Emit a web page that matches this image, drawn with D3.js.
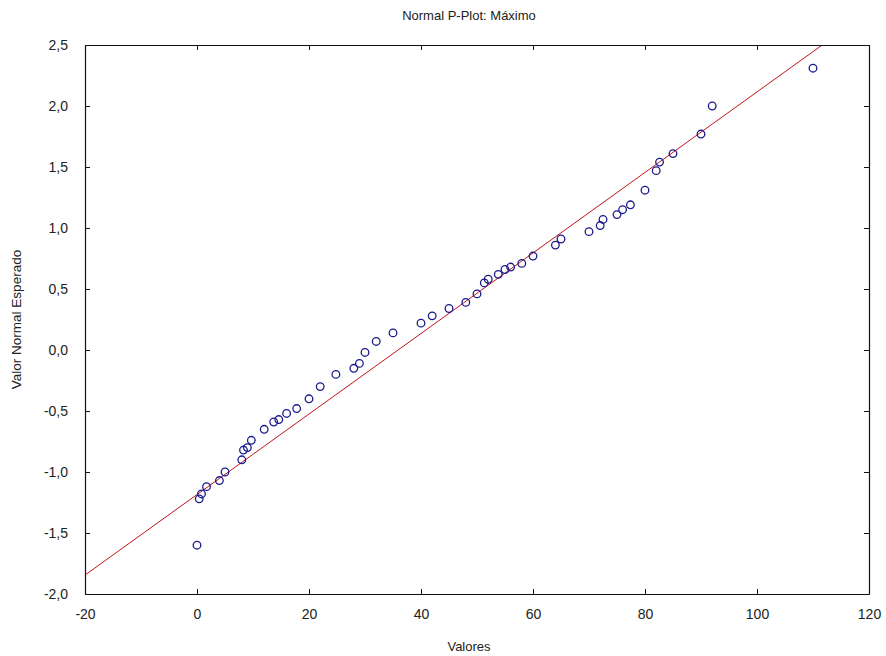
<!DOCTYPE html>
<html>
<head>
<meta charset="utf-8">
<script src="https://cdnjs.cloudflare.com/ajax/libs/d3/7.8.5/d3.min.js"></script>
<style>
  body { margin: 0; background: #fff; }
  text { font-family: "Liberation Sans", Arial, sans-serif; fill: #222; }
</style>
</head>
<body>
<div id="container"></div>
<script>
// valores observados (eje x) y valor normal esperado (eje y)
var valores = [0, 0.4, 0.8, 1.7, 4, 5, 8, 8.3, 9, 9.7,
  12, 13.7, 14.6, 16, 17.8, 20, 22, 24.8, 28, 29,
  30, 32, 35, 40, 42, 45, 48, 50, 51.3, 52,
  53.8, 55, 56, 58, 60, 64, 65, 70, 72, 72.5,
  75, 76, 77.4, 80, 82, 82.6, 85, 90, 92, 110];
var esperado = [-1.60, -1.22, -1.18, -1.12, -1.07, -1.00, -0.90, -0.82, -0.80, -0.74,
  -0.65, -0.59, -0.57, -0.52, -0.48, -0.40, -0.30, -0.20, -0.15, -0.11,
  -0.02, 0.07, 0.14, 0.22, 0.28, 0.34, 0.39, 0.46, 0.55, 0.58,
  0.62, 0.66, 0.68, 0.71, 0.77, 0.86, 0.91, 0.97, 1.02, 1.07,
  1.11, 1.15, 1.19, 1.31, 1.47, 1.54, 1.61, 1.77, 2.00, 2.31];

// recta teorica: z = (x - media) / desvio
var media = 35.9, desvio = 30.3;

var xTicks = [-20, 0, 20, 40, 60, 80, 100, 120];
var yTicks = [-2.0, -1.5, -1.0, -0.5, 0.0, 0.5, 1.0, 1.5, 2.0, 2.5];

var svgWidth = 886, svgHeight = 656;
var margin = { top: 45, left: 85, right: 17, bottom: 62 };
var Width = svgWidth - margin.left - margin.right,
    Height = svgHeight - margin.top - margin.bottom;

var svg = d3.select("#container").append("svg")
  .attr("width", svgWidth)
  .attr("height", svgHeight);

var g = svg.append("g")
  .attr("transform", "translate(" + margin.left + "," + margin.top + ")");

var xScale = d3.scaleLinear().domain([-20, 120]).range([0, Width]);
var yScale = d3.scaleLinear().domain([-2, 2.5]).range([Height, 0]);

// formato con coma decimal
var loc = d3.formatLocale({ decimal: ",", thousands: ".", grouping: [3], currency: ["", ""], minus: "-" });
var fmtY = loc.format(".1f");
var fmtX = loc.format("d");

g.append("clipPath").attr("id", "clip")
  .append("rect").attr("width", Width).attr("height", Height);

// recta
var xs = [-20, 120];
g.append("line")
  .attr("clip-path", "url(#clip)")
  .attr("x1", xScale(xs[0])).attr("y1", yScale((xs[0] - media) / desvio))
  .attr("x2", xScale(xs[1])).attr("y2", yScale((xs[1] - media) / desvio))
  .attr("stroke", "#c0141a")
  .attr("stroke-width", 1);

// puntos
var datos = valores.map(function (v, i) { return { x: v, y: esperado[i] }; });
g.selectAll(".punto")
  .data(datos)
  .enter()
  .append("circle")
  .attr("class", "punto")
  .attr("cx", function (d) { return xScale(d.x); })
  .attr("cy", function (d) { return yScale(d.y); })
  .attr("r", 3.8)
  .attr("fill", "none")
  .attr("stroke", "#1a1a8c")
  .attr("stroke-width", 1.3);

// ejes (ticks hacia adentro en los cuatro lados)
var tickLen = 5;
g.append("g")
  .attr("transform", "translate(0," + Height + ")")
  .call(d3.axisBottom(xScale).tickValues(xTicks).tickFormat(fmtX).tickSizeInner(-tickLen).tickSizeOuter(0).tickPadding(15));
g.append("g")
  .call(d3.axisTop(xScale).tickValues(xTicks).tickFormat("").tickSizeInner(-tickLen).tickSizeOuter(0));
g.append("g")
  .call(d3.axisLeft(yScale).tickValues(yTicks).tickFormat(fmtY).tickSizeInner(-tickLen).tickSizeOuter(0).tickPadding(17));
g.append("g")
  .attr("transform", "translate(" + Width + ",0)")
  .call(d3.axisRight(yScale).tickValues(yTicks).tickFormat("").tickSizeInner(-tickLen).tickSizeOuter(0));

g.selectAll(".domain").attr("stroke", "#111").attr("stroke-width", 1.2);
g.selectAll(".tick line").attr("stroke", "#111");
g.selectAll(".tick text").attr("font-size", 14).attr("fill", "#222")
  .style("font-family", "'Liberation Sans', Arial, sans-serif");

// titulo y etiquetas
svg.append("text")
  .attr("x", margin.left + Width / 2 - 8)
  .attr("y", 20)
  .attr("text-anchor", "middle")
  .attr("font-size", 13)
  .text("Normal P-Plot: Máximo");

svg.append("text")
  .attr("x", margin.left + Width / 2 - 8)
  .attr("y", 651)
  .attr("text-anchor", "middle")
  .attr("font-size", 13)
  .text("Valores");

svg.append("text")
  .attr("transform", "translate(21," + (margin.top + Height / 2) + ") rotate(-90)")
  .attr("text-anchor", "middle")
  .attr("font-size", 13.5)
  .text("Valor Normal Esperado");
</script>
</body>
</html>
